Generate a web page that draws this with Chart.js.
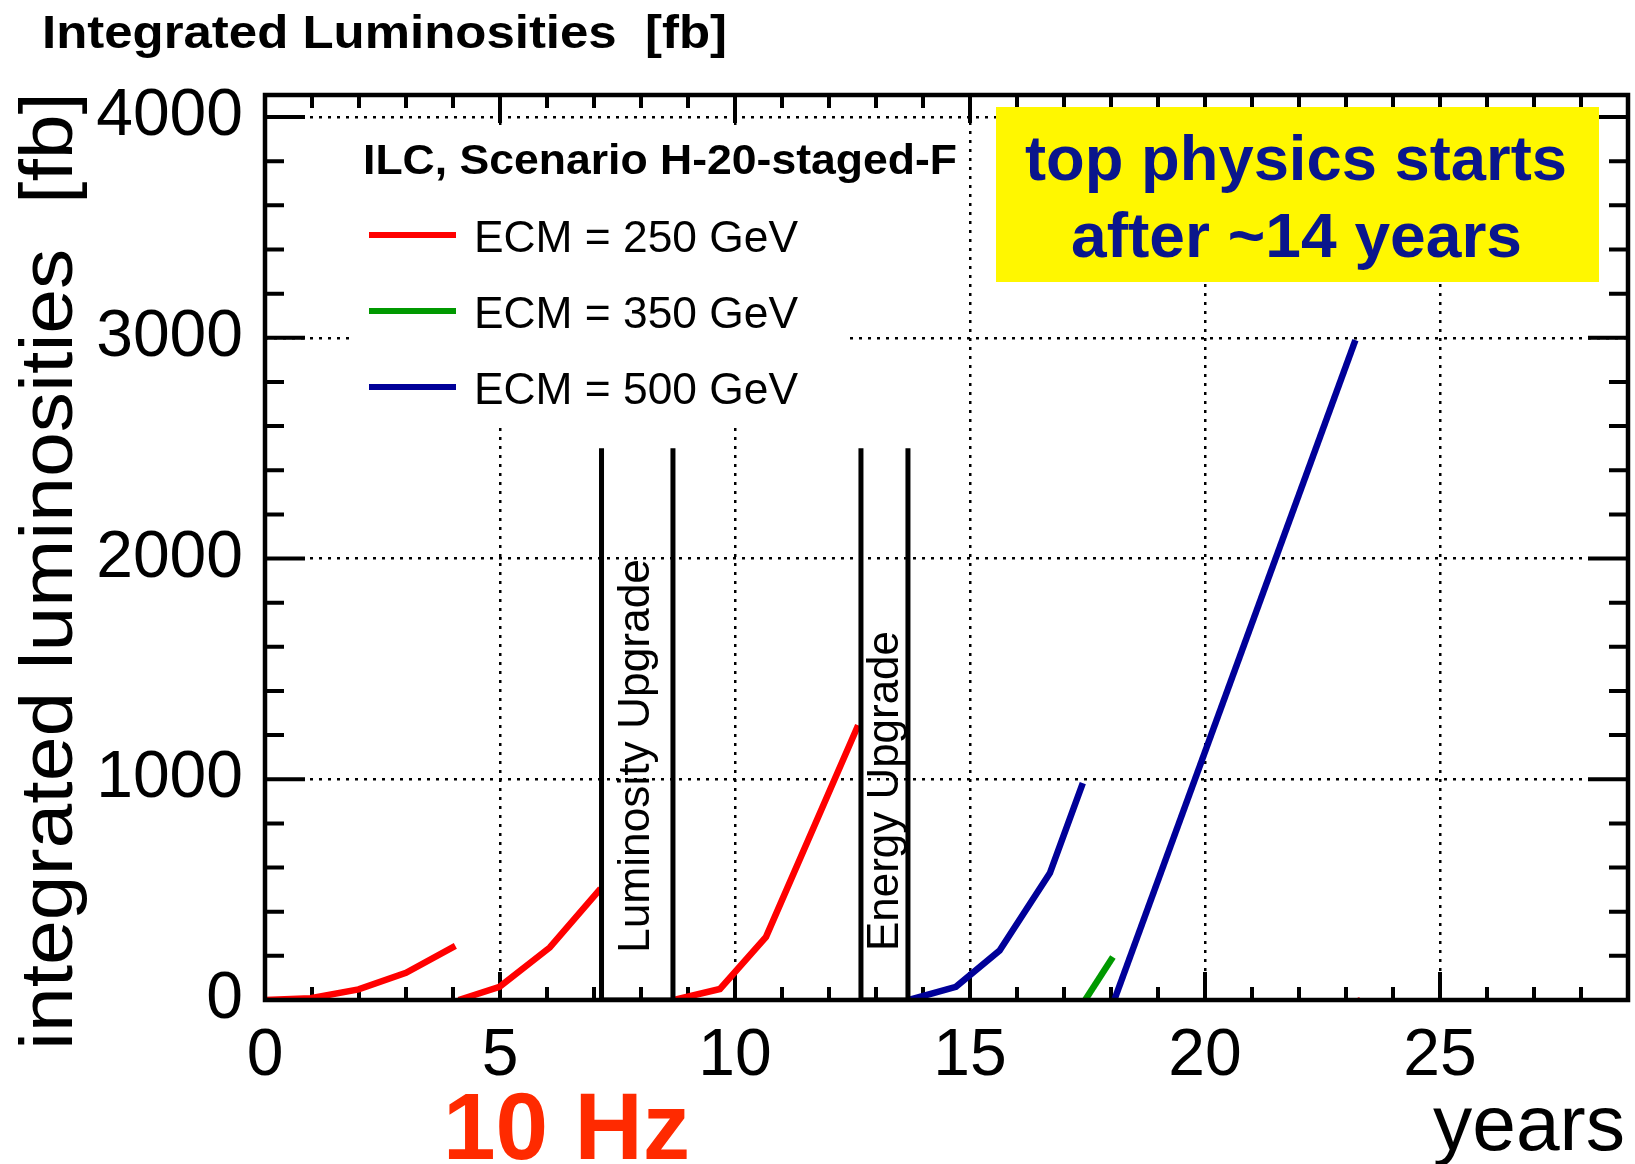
<!DOCTYPE html>
<html>
<head>
  <title>Integrated Luminosities</title>
  <script src="https://cdn.jsdelivr.net/npm/chart.js"></script>
  <style>
    body { margin: 0; background: #fff; }
    #wrap { width: 1635px; height: 1164px; }
  </style>
</head>
<body>
<div id="wrap"><canvas id="lumiChart" width="1635" height="1164"></canvas></div>
<script>
  // axis ticks
  const xTicks = [0, 5, 10, 15, 20, 25];
  const yTicks = [0, 1000, 2000, 3000, 4000];

  // ECM = 250 GeV runs (years, fb)
  const red1X = [0, 0.97, 1.99, 3.0, 4.05];
  const red1Y = [0, 8, 48, 123, 245];
  const red2X = [4.12, 4.99, 6.06, 7.14];
  const red2Y = [0, 60, 238, 505];
  const red3X = [8.7, 9.68, 10.66, 12.62];
  const red3Y = [0, 50, 286, 1245];
  const red4X = [23.27, 23.27];
  const red4Y = [0, 12];

  // ECM = 350 GeV
  const greenX = [17.45, 18.04];
  const greenY = [0, 195];

  // ECM = 500 GeV
  const blue1X = [13.7, 14.7, 15.63, 16.7, 17.4];
  const blue1Y = [0, 60, 224, 575, 982];
  const blue2X = [18.07, 23.2];
  const blue2Y = [0, 2990];

  // shutdown periods
  const lumiUpX = [7.16, 7.16, 8.68, 8.68];
  const lumiUpY = [2500, 0, 0, 2500];
  const energyUpX = [12.68, 12.68, 13.68, 13.68];
  const energyUpY = [2500, 0, 0, 2500];

  const seriesNames = ['ECM = 250 GeV', 'ECM = 350 GeV', 'ECM = 500 GeV'];
  const seriesColors = ['#ff0000', '#009900', '#000099'];

  const FONT = "'Liberation Sans', Arial, Helvetica, sans-serif";

  function pts(xs, ys) {
    return xs.map((x, i) => ({ x: x, y: ys[i] }));
  }

  function seg(xs, ys, color, width) {
    return {
      data: pts(xs, ys),
      borderColor: color,
      borderWidth: width,
      pointRadius: 0,
      fill: false,
      tension: 0,
      borderCapStyle: 'butt',
      borderJoinStyle: 'miter'
    };
  }

  // text squeezed/stretched to a measured width
  function fitText(ctx, text, x, y, w, font, color, angle) {
    ctx.save();
    ctx.font = font;
    ctx.fillStyle = color;
    ctx.textAlign = 'left';
    ctx.textBaseline = 'alphabetic';
    const m = ctx.measureText(text).width;
    ctx.translate(x, y);
    if (angle) ctx.rotate(angle);
    ctx.scale(w / m, 1);
    ctx.fillText(text, 0, 0);
    ctx.restore();
  }

  const decor = {
    id: 'decor',
    beforeDatasetsDraw(chart) {
      const ctx = chart.ctx, a = chart.chartArea;
      const xs = chart.scales.x, ys = chart.scales.y;
      ctx.save();
      ctx.strokeStyle = '#000';
      ctx.lineWidth = 4;
      ctx.beginPath();
      for (let v = 1; v < 29; v++) {
        const px = xs.getPixelForValue(v);
        const len = v % 5 === 0 ? 28 : 13;
        ctx.moveTo(px, a.bottom); ctx.lineTo(px, a.bottom - len);
        ctx.moveTo(px, a.top); ctx.lineTo(px, a.top + len);
      }
      for (let v = 200; v < 4100; v += 200) {
        const py = ys.getPixelForValue(v);
        const len = v % 1000 === 0 ? 40 : 19;
        ctx.moveTo(a.left, py); ctx.lineTo(a.left + len, py);
        ctx.moveTo(a.right, py); ctx.lineTo(a.right - len, py);
      }
      ctx.stroke();

      // legend background and note box
      ctx.fillStyle = '#fff';
      ctx.fillRect(349, 125, 500, 303);
      ctx.fillStyle = '#fff700';
      ctx.fillRect(996, 107, 603, 175);
      ctx.restore();
    },
    afterDatasetsDraw(chart) {
      const ctx = chart.ctx, a = chart.chartArea;
      ctx.save();
      ctx.strokeStyle = '#000';
      ctx.lineWidth = 4.5;
      ctx.strokeRect(a.left, a.top, a.right - a.left, a.bottom - a.top);

      // legend
      fitText(ctx, 'ILC, Scenario H-20-staged-F', 363, 174, 594, 'bold 43px ' + FONT, '#000');
      seriesNames.forEach((name, i) => {
        const y = 235 + i * 76;
        ctx.strokeStyle = seriesColors[i];
        ctx.lineWidth = 6;
        ctx.beginPath();
        ctx.moveTo(369, y); ctx.lineTo(456, y);
        ctx.stroke();
        fitText(ctx, name, 474, y + 17, 324, '44px ' + FONT, '#000');
      });

      // note
      fitText(ctx, 'top physics starts', 1025, 180, 542, 'bold 63px ' + FONT, '#0a168c');
      fitText(ctx, 'after ~14 years', 1071, 257, 451, 'bold 63px ' + FONT, '#0a168c');

      // shutdown labels
      fitText(ctx, 'Luminosity Upgrade', 649, 953, 394, '44px ' + FONT, '#000', -Math.PI / 2);
      fitText(ctx, 'Energy Upgrade', 898, 951, 320, '44px ' + FONT, '#000', -Math.PI / 2);

      // titles
      fitText(ctx, 'Integrated Luminosities  [fb]', 42, 48, 685, 'bold 47px ' + FONT, '#000');
      fitText(ctx, 'integrated luminosities  [fb]', 72, 1050, 958, '74px ' + FONT, '#000', -Math.PI / 2);
      fitText(ctx, 'years', 1433, 1150, 192, '78px ' + FONT, '#000');
      fitText(ctx, '10 Hz', 443, 1159, 247, 'bold 94px ' + FONT, '#ff2a00');
      ctx.restore();
    }
  };

  new Chart(document.getElementById('lumiChart'), {
    type: 'line',
    data: {
      datasets: [
        seg(lumiUpX, lumiUpY, '#000', 5),
        seg(energyUpX, energyUpY, '#000', 5),
        seg(red1X, red1Y, seriesColors[0], 6.5),
        seg(red2X, red2Y, seriesColors[0], 6.5),
        seg(red3X, red3Y, seriesColors[0], 6.5),
        seg(red4X, red4Y, seriesColors[0], 2),
        seg(greenX, greenY, seriesColors[1], 6.5),
        seg(blue1X, blue1Y, seriesColors[2], 6.5),
        seg(blue2X, blue2Y, seriesColors[2], 6.5)
      ]
    },
    plugins: [decor],
    options: {
      responsive: false,
      animation: false,
      layout: { padding: { top: 95, right: 7, left: 0, bottom: 0 } },
      plugins: { legend: { display: false }, tooltip: { enabled: false } },
      scales: {
        x: {
          type: 'linear',
          min: 0,
          max: 29,
          afterFit(scale) { scale.height = 164; },
          afterBuildTicks(scale) { scale.ticks = xTicks.map(v => ({ value: v })); },
          border: { display: false, dash: [3, 6] },
          grid: {
            drawTicks: false,
            color: c => (c.tick && c.tick.value === 0) ? 'rgba(0,0,0,0)' : '#000',
            lineWidth: 2.5
          },
          ticks: {
            padding: 17,
            color: '#000',
            maxRotation: 0,
            callback: v => String(v),
            font: { family: FONT, size: 66 }
          }
        },
        y: {
          type: 'linear',
          min: 0,
          max: 4100,
          afterFit(scale) { scale.width = 265; },
          afterBuildTicks(scale) { scale.ticks = yTicks.map(v => ({ value: v })); },
          border: { display: false, dash: [3, 6] },
          grid: {
            drawTicks: false,
            color: c => (c.tick && c.tick.value === 0) ? 'rgba(0,0,0,0)' : '#000',
            lineWidth: 2.5
          },
          ticks: {
            padding: 22,
            color: '#000',
            callback: v => String(v),
            font: { family: FONT, size: 66 }
          }
        }
      }
    }
  });
</script>
</body>
</html>
